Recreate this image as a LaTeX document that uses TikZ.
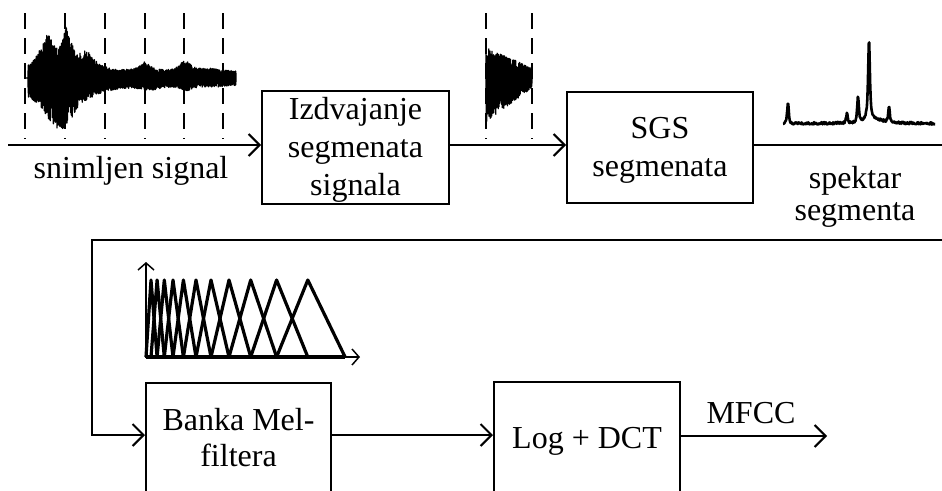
\documentclass[tikz,border=0pt]{standalone}
\usepackage{fontspec}
\setmainfont{Liberation Serif}
\usetikzlibrary{arrows.meta}
\begin{document}
\begin{tikzpicture}[x=1pt,y=-1pt,line width=2pt,
  declare function={lz(\a,\c,\w)=1/(1+((\a-\c)/\w)*((\a-\c)/\w));
                    up(\a)=6+34*lz(\a,47,9)+38*lz(\a,67,5)+17*lz(\a,86,10)+9*lz(\a,145,6)+11*lz(\a,185,6)+3*lz(\a,210,15);
                    dn(\a)=6+46*lz(\a,60,20)+4*lz(\a,150,12)+6*lz(\a,187,6)+2*lz(\a,215,15);
                    sg(\a,\o)=ifthenelse(mod(round((\a-\o)*5),2)==1,1,-1);},
  arr/.style={-{Straight Barb[length=11pt,width=22pt,line width=2pt]}},
  axarr/.style={line width=1.5pt,-{Straight Barb[length=7pt,width=16pt,line width=1.5pt]}},
  blk/.style={draw,line width=2pt,inner sep=0pt},
  txt/.style={font=\fontsize{32}{38}\selectfont,inner sep=0pt,align=center,anchor=base},
  cut/.style={line width=1.5pt,dash pattern=on 16pt off 9pt},
  wave/.style={line width=1.3pt,line join=round},
  tri/.style={line width=3.2pt,line join=round}]
\useasboundingbox (0,0) rectangle (942,490);
\clip (0,0) rectangle (942,490);

% blocks
\node[blk,minimum width=187pt,minimum height=113pt] (izd) at (355.5,147.5) {};
\node[blk,minimum width=186pt,minimum height=111pt] (sgs) at (660,147.5) {};
\node[blk,minimum width=185pt,minimum height=140pt] (mel) at (238.5,453) {};
\node[blk,minimum width=186pt,minimum height=140pt] (log) at (587,452) {};

% texts (base anchor = baseline of the last line)
\node[txt] (t1) at (355.5,195) {Izdvajanje\\segmenata\\signala};
\node[txt] (t2) at (660,176) {SGS\\segmenata};
\node[txt] (t3) at (131,178) {snimljen signal};
\node[txt] (t4) at (855,220) {spektar\\[-6pt]segmenta};
\node[txt] (t5) at (238.5,466) {Banka Mel-\\[-2pt]filtera};
\node[txt] (t6) at (587,448) {Log + DCT};
\node[txt] (t7) at (751,423) {MFCC};

% connectors
\coordinate (s) at (8,145);
\coordinate (c1) at (960,145);
\coordinate (c2) at (960,240);
\coordinate (c3) at (92,240);
\coordinate (c4) at (92,435);
\coordinate (out) at (827,436);
\draw[arr] (s) -- (s -| izd.west);
\draw[arr] (izd.east |- s) -- (s -| sgs.west);
\draw[arr] (sgs.east |- s) -- (c1) -- (c2) -- (c3) -- (c4) -- (c4 -| mel.west);
\draw[arr] (mel.east |- c4) -- (c4 -| log.west);
\draw[arr] (log.east |- out) -- (out);

% segment boundaries
\foreach \x in {25,65,105,145,184,223,486,532}
  \draw[cut] (\x,13) -- (\x,139);

% recorded signal
\pgfmathsetseed{7}
\draw[wave] (25,78) -- (28,78) plot[domain=28:236,samples=1041]
  (\x,{78+ifthenelse(sg(\x,28)>0,dn(\x),-up(\x))*(0.3+0.7*sqrt(rnd))});

% segment
\draw[wave] plot[domain=486:532,samples=231]
  (\x,{80+ifthenelse(sg(\x,486)>0,42-34*(\x-486)/46,-(33-21*(\x-486)/46))*(0.3+0.7*sqrt(rnd))});

% spectrum
\draw[line width=2.6pt,line join=round] plot[domain=783:935,samples=320]
  (\x,{125-(1.5+1.2*rand+21*lz(\x,788,1.5)*lz(\x,788,1.5)+10*lz(\x,847,1.5)*lz(\x,847,1.5)
   +25*lz(\x,858,1.5)*lz(\x,858,1.5)+72*lz(\x,869,1.5)*lz(\x,869,1.5)+10*lz(\x,869,4)
   +15*lz(\x,889,1.5)*lz(\x,889,1.5)+3*lz(\x,876,12))});

% mel filter bank
\draw[line width=4pt] (146,357) -- (345,357);
\foreach \a/\b/\c in {146/151.0/157.1,151.0/157.1/164.3,157.1/164.3/173.0,164.3/173.0/183.4,
  173.0/183.4/196.0,183.4/196.0/211.0,196.0/211.0/229.0,211.0/229.0/250.7,
  229.0/250.7/276.6,250.7/276.6/307.8,276.6/307.8/345.1}
  \draw[tri] (\a,357) -- (\b,280) -- (\c,357);
\draw[axarr] (146,358) -- (146,262);
\draw[axarr] (146,357) -- (360,357);
\end{tikzpicture}
\end{document}
